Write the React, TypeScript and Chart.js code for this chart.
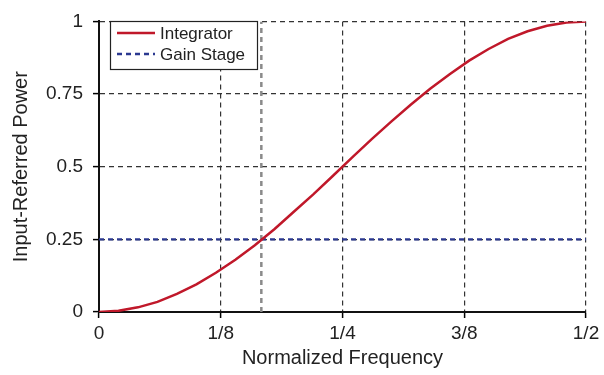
import React, { useEffect, useRef } from "react";
import { Chart, registerables } from "chart.js";

Chart.register(...registerables);

const frequency = [0, 0.02, 0.04, 0.06, 0.08, 0.1, 0.12, 0.14, 0.16, 0.18, 0.2, 0.22, 0.24, 0.26, 0.28, 0.3, 0.32, 0.34, 0.36, 0.38, 0.4, 0.42, 0.44, 0.46, 0.48, 0.5];
const integrator = [0, 0.004, 0.016, 0.035, 0.062, 0.095, 0.135, 0.18, 0.23, 0.285, 0.345, 0.405, 0.468, 0.532, 0.595, 0.655, 0.713, 0.768, 0.818, 0.865, 0.905, 0.94, 0.966, 0.985, 0.996, 1];
const gainStageX = [0, 0.5];
const gainStage = [0.25, 0.25];
const markerX = [1 / 6, 1 / 6];
const markerY = [0, 1];
const xTickValues = [0, 0.125, 0.25, 0.375, 0.5];
const xTickLabels = ["0", "1/8", "1/4", "3/8", "1/2"];
const yTickValues = [0, 0.25, 0.5, 0.75, 1];
const yTickLabels = ["0", "0.25", "0.5", "0.75", "1"];

const FONT = "'Liberation Sans', Arial, Helvetica, sans-serif";

const boxLegend = {
  id: "boxLegend",
  afterDatasetsDraw(chart: any) {
    const ctx = chart.ctx;
    const items = chart.data.datasets.filter((d: any) => d.inLegend);
    const x0 = 110.5, y0 = 21.5, w = 147, h = 48;
    ctx.save();
    ctx.fillStyle = "#fff";
    ctx.fillRect(x0, y0, w, h);
    ctx.strokeStyle = "#222";
    ctx.lineWidth = 1.2;
    ctx.strokeRect(x0, y0, w, h);
    ctx.font = `17px ${FONT}`;
    ctx.textBaseline = "middle";
    items.forEach((d: any, i: number) => {
      const y = 33 + i * 21;
      ctx.beginPath();
      ctx.strokeStyle = d.borderColor;
      ctx.lineWidth = d.borderWidth;
      ctx.setLineDash(d.borderDash || []);
      ctx.moveTo(117, y);
      ctx.lineTo(155, y);
      ctx.stroke();
      ctx.setLineDash([]);
      ctx.fillStyle = "#222";
      ctx.fillText(d.label, 160, y + 1);
    });
    ctx.restore();
  },
};

export default function App() {
  const ref = useRef<HTMLCanvasElement>(null);
  useEffect(() => {
    const chart = new Chart(ref.current!, {
      type: "scatter",
      data: {
        datasets: [
          {
            label: "Integrator",
            inLegend: true,
            data: frequency.map((x, i) => ({ x, y: integrator[i] })),
            showLine: true,
            borderColor: "#c0182a",
            borderWidth: 2.5,
            pointRadius: 0,
            tension: 0,
          } as any,
          {
            label: "Gain Stage",
            inLegend: true,
            data: gainStageX.map((x, i) => ({ x, y: gainStage[i] })),
            showLine: true,
            borderColor: "#2b3890",
            borderWidth: 2.4,
            borderDash: [5, 4],
            pointRadius: 0,
          } as any,
          {
            label: "",
            inLegend: false,
            data: markerX.map((x, i) => ({ x, y: markerY[i] })),
            showLine: true,
            borderColor: "#8a8a8a",
            borderWidth: 2.5,
            borderDash: [5, 4],
            pointRadius: 0,
          } as any,
        ],
      },
      options: {
        responsive: false,
        animation: false,
        layout: { padding: { top: 14, right: 18, left: 0, bottom: 0 } },
        plugins: { legend: { display: false }, tooltip: { enabled: false } },
        scales: {
          x: {
            type: "linear",
            min: 0,
            max: 0.5,
            afterFit: (s: any) => { s.height = 63; },
            afterBuildTicks: (s: any) => { s.ticks = xTickValues.map((v) => ({ value: v })); },
            ticks: {
              padding: 4,
              color: "#222",
              font: { family: FONT, size: 19 },
              callback: (v: any) => { const i = xTickValues.indexOf(v); return i >= 0 ? xTickLabels[i] : ""; },
            },
            grid: { color: "#333", lineWidth: 1.2, tickLength: 6, tickColor: "#000", tickWidth: 1.5, tickBorderDash: [] },
            border: { display: true, color: "#111", width: 2, dash: [5, 4] },
            title: { display: true, text: "Normalized Frequency", color: "#222", font: { family: FONT, size: 20 }, padding: { top: 0, bottom: 5 } },
          },
          y: {
            type: "linear",
            min: 0,
            max: 1,
            afterFit: (s: any) => { s.width = 99; },
            afterBuildTicks: (s: any) => { s.ticks = yTickValues.map((v) => ({ value: v })); },
            ticks: {
              padding: 10,
              color: "#222",
              font: { family: FONT, size: 19 },
              callback: (v: any) => { const i = yTickValues.indexOf(v); return i >= 0 ? yTickLabels[i] : ""; },
            },
            grid: { color: "#333", lineWidth: 1.2, tickLength: 6, tickColor: "#000", tickWidth: 1.5, tickBorderDash: [] },
            border: { display: true, color: "#111", width: 2, dash: [5, 4] },
            title: { display: true, text: "Input-Referred Power", color: "#222", font: { family: FONT, size: 20 }, padding: { top: 9, bottom: 0 } },
          },
        },
      },
      plugins: [boxLegend],
    } as any);
    return () => chart.destroy();
  }, []);
  return (
    <div style={{ position: "absolute", left: 0, top: 0, width: 604, height: 375, background: "#fff" }}>
      <canvas ref={ref} width={604} height={375} style={{ display: "block" }} />
    </div>
  );
}
